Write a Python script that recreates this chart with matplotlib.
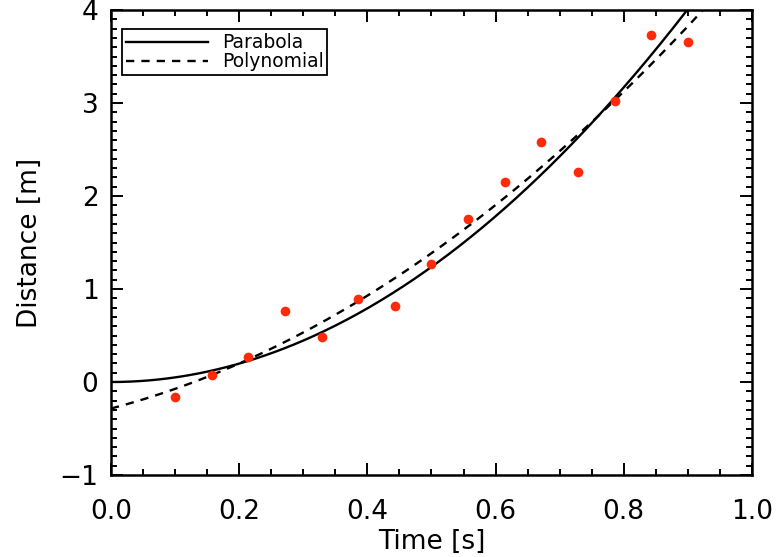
import numpy as np
import matplotlib
matplotlib.use("Agg")
from matplotlib import pyplot as plt
from matplotlib.ticker import MultipleLocator

# measured points (time in s, distance in m)
t = [0.100, 0.157, 0.214, 0.271, 0.329, 0.386, 0.443, 0.500,
     0.557, 0.614, 0.671, 0.729, 0.786, 0.843, 0.900]
d = [-0.156, 0.079, 0.272, 0.765, 0.487, 0.894, 0.822, 1.272,
     1.751, 2.148, 2.583, 2.258, 3.027, 3.727, 3.652]

t = np.array(t)
d = np.array(d)

# parabola through the origin: d = a*t^2
a = np.sum(d * t**2) / np.sum(t**4)
# general second order polynomial
p = np.polyfit(t, d, 2)

tt = np.linspace(0, 1, 400)

plt.rcParams['font.family'] = ['DejaVu Sans']
fig = plt.figure(figsize=(7.76, 5.57), dpi=100)
ax = fig.add_axes([0.143, 0.1472, 0.826, 0.8348])

ax.plot(tt, a * tt**2, '-k', lw=1.7, label='Parabola')
ax.plot(tt, np.polyval(p, tt), '--k', lw=1.7, dashes=(3.5, 3), label='Polynomial')
ax.plot(t, d, 'o', color='#ff2a0a', ms=7, mec='none', zorder=3)

ax.set_xlim(0, 1)
ax.set_ylim(-1, 4)
ax.xaxis.set_major_locator(MultipleLocator(0.2))
ax.xaxis.set_minor_locator(MultipleLocator(0.05))
ax.yaxis.set_major_locator(MultipleLocator(1))
ax.yaxis.set_minor_locator(MultipleLocator(0.1))
ax.xaxis.set_major_formatter(plt.FormatStrFormatter('%.1f'))
ax.yaxis.set_major_formatter(plt.FuncFormatter(lambda v, pos: '\u2212%d' % -v if v < 0 else '%d' % v))

ax.tick_params(which='both', direction='in', top=True, right=True, width=1.4,
               labelsize=19)
ax.tick_params(axis='x', pad=17)
ax.tick_params(axis='y', pad=9)
ax.tick_params(which='major', length=8.5)
ax.tick_params(which='minor', length=4)
for s in ax.spines.values():
    s.set_linewidth(1.8)

ax.set_xlabel('Time [s]', fontsize=19, labelpad=3)
ax.set_ylabel('Distance [m]', fontsize=19, labelpad=12)

leg = ax.legend(loc='upper left', bbox_to_anchor=(0.017, 0.9585), borderaxespad=0,
                fontsize=13.5, fancybox=False, framealpha=1, edgecolor='black',
                borderpad=0.2, labelspacing=0.0, handlelength=4.4, handletextpad=0.73)
leg.get_frame().set_linewidth(1.3)

fig.savefig('out.png', dpi=100)
